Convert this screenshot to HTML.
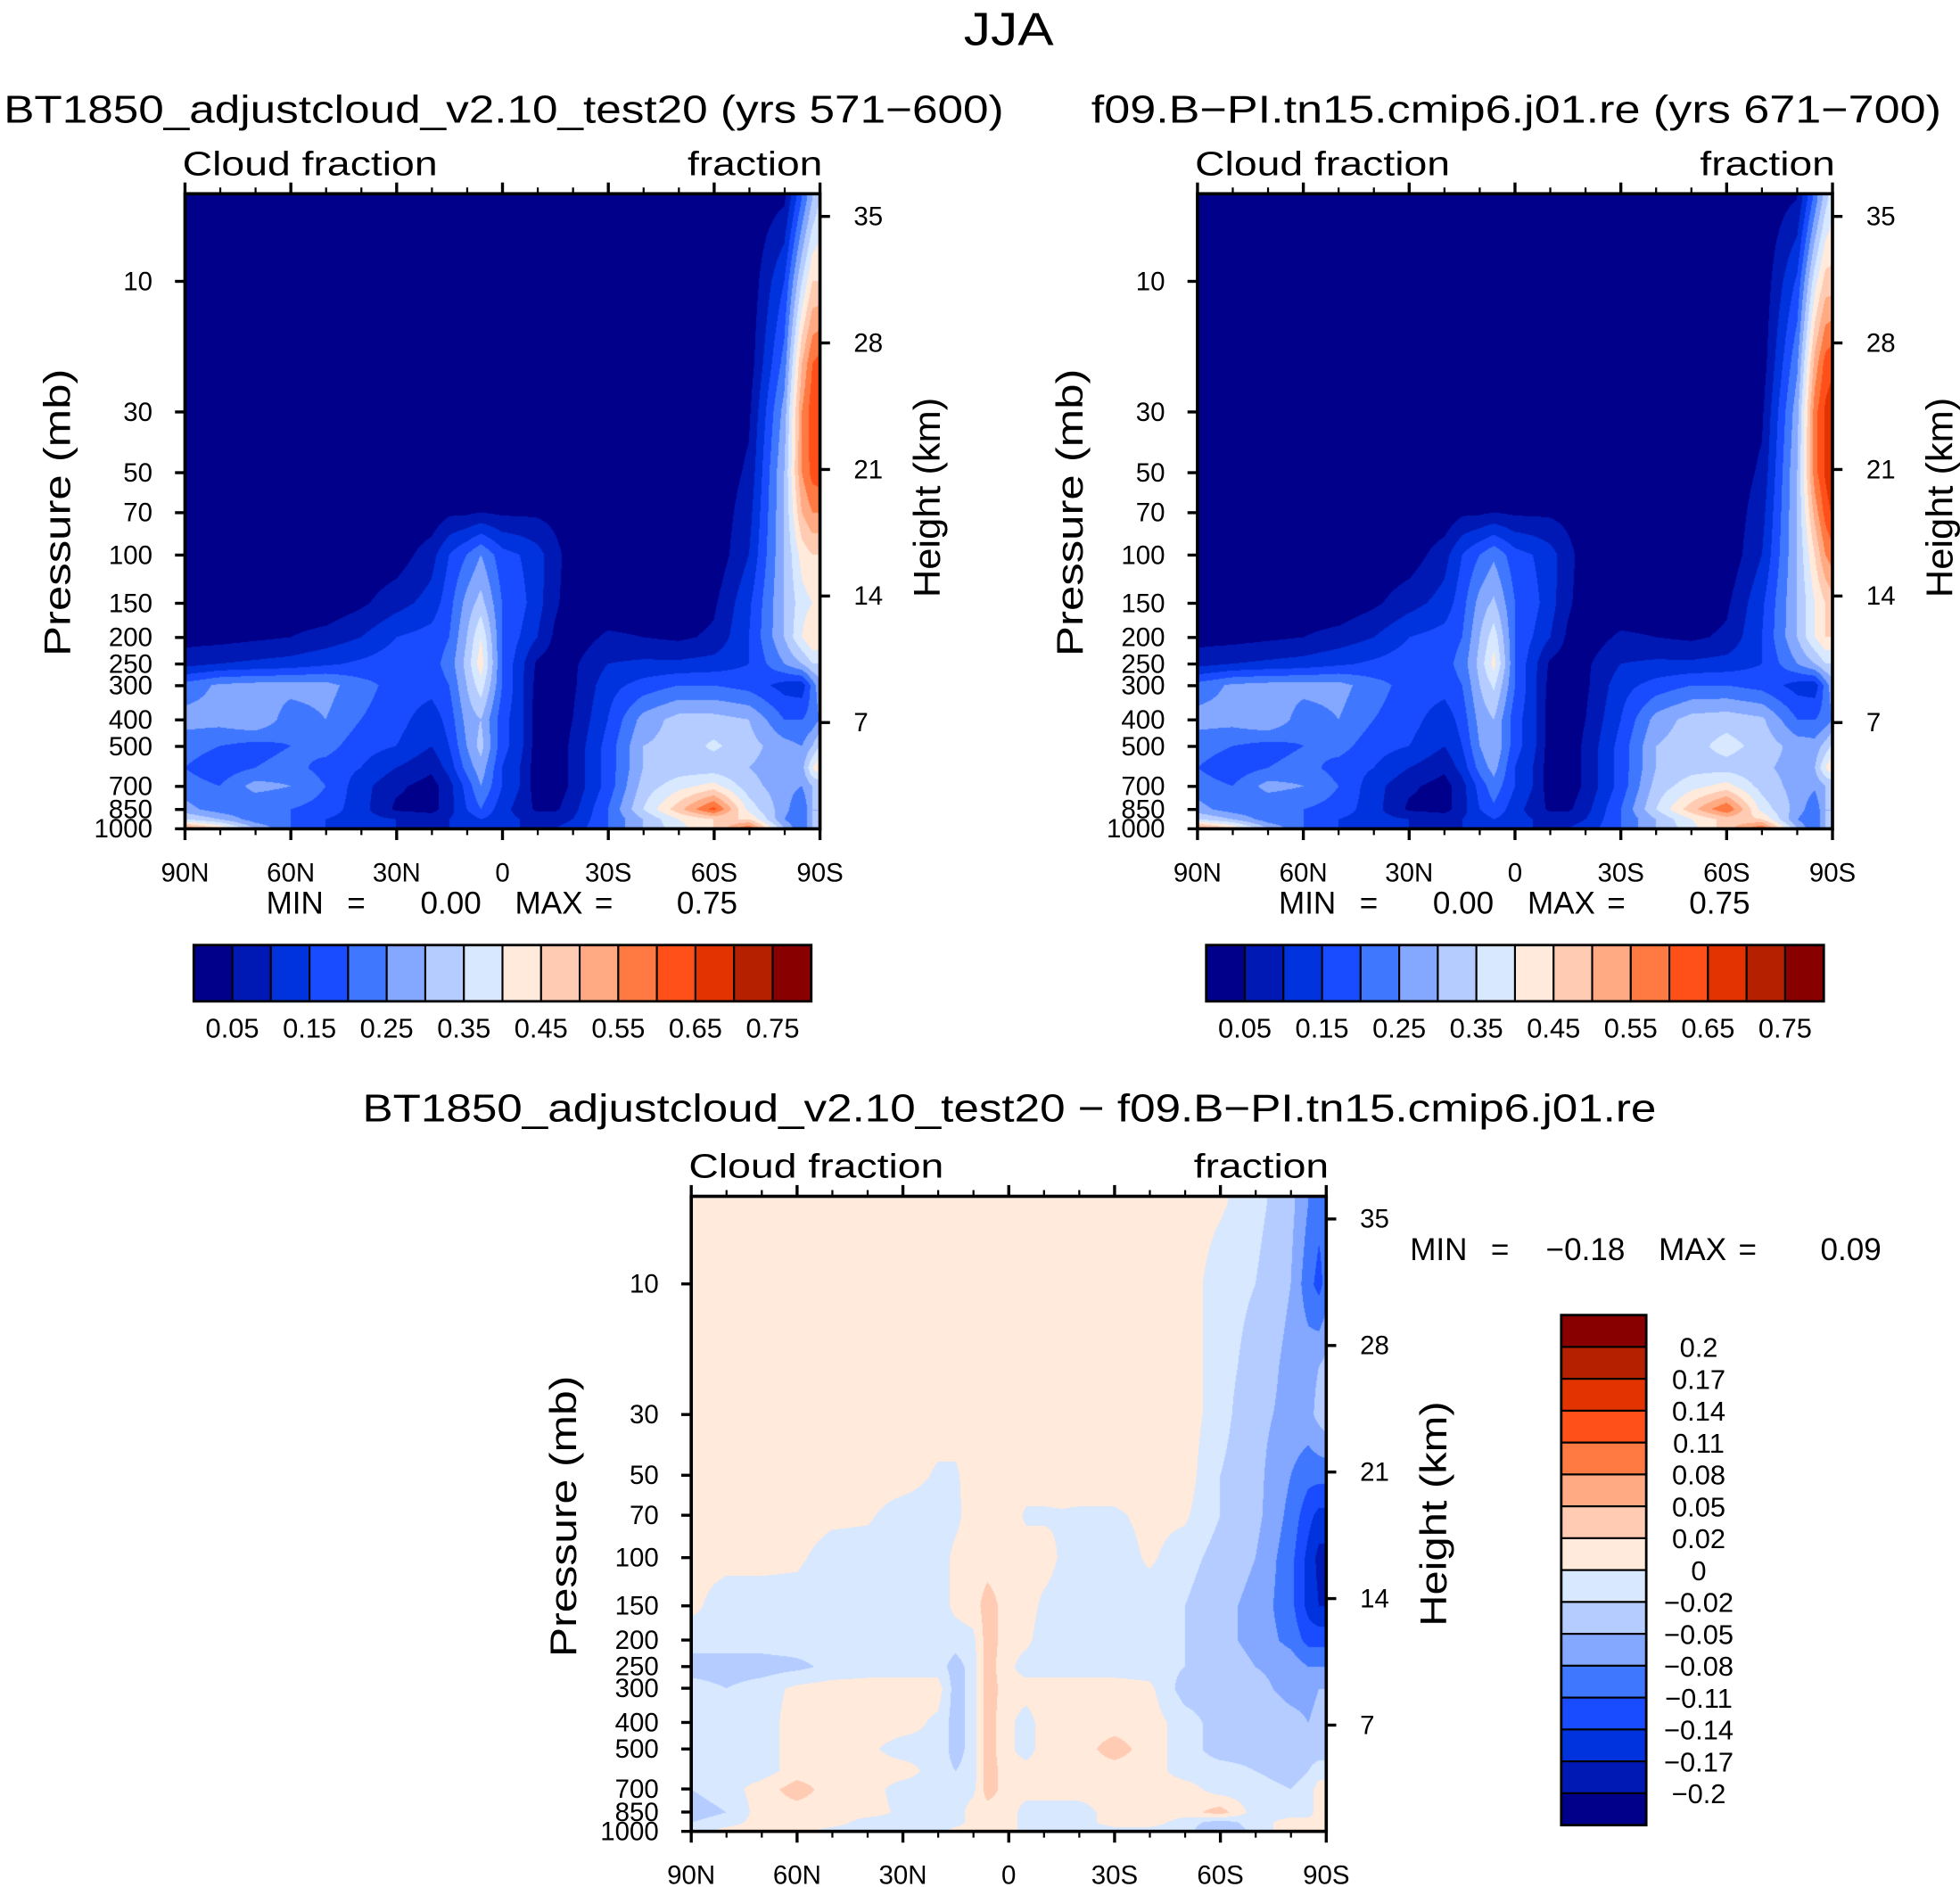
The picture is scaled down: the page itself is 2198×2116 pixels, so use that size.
<!DOCTYPE html>
<html><head><meta charset="utf-8">
<style>
html,body{margin:0;padding:0;background:#fff;}
#root{position:relative;width:2198px;height:2116px;overflow:hidden;background:#fff;font-family:"Liberation Sans",sans-serif;}
canvas{position:absolute;}
#svg{position:absolute;left:0;top:0;}
</style></head>
<body>
<div id="root">
<canvas id="cvA"></canvas>
<canvas id="cvB"></canvas>
<canvas id="cvD"></canvas>
<svg id="svg" width="2198" height="2116" viewBox="0 0 1568 1509.5" preserveAspectRatio="none" xmlns="http://www.w3.org/2000/svg"></svg>
</div>
<script>
// ---- data ----
const LATS=[90,80,70,60,50,40,30,20,15,10,6,0,-5,-10,-15,-20,-30,-40,-50,-60,-70,-80,-85,-88,-90];
const PLEV=[5,10,20,30,50,70,100,150,200,250,300,400,500,600,700,850,925,1000];
const cfA=[
[.01,.01,.01,.01,.01,.01,.01,.01,.01,.01,.01,.01,.01,.01,.01,.01,.01,.01,.01,.01,.01,.04,.2,.3,.35],
[.01,.01,.01,.01,.01,.01,.01,.01,.01,.01,.01,.01,.01,.01,.01,.01,.01,.01,.01,.01,.01,.15,.35,.45,.45],
[.01,.01,.01,.01,.01,.01,.01,.01,.01,.01,.01,.01,.01,.01,.01,.01,.01,.01,.01,.01,.02,.22,.5,.6,.62],
[.01,.01,.01,.01,.01,.01,.01,.01,.01,.01,.01,.01,.01,.01,.01,.01,.01,.01,.01,.01,.04,.27,.55,.63,.65],
[.01,.01,.01,.01,.01,.01,.01,.01,.01,.01,.01,.01,.01,.01,.01,.01,.01,.01,.01,.01,.06,.3,.55,.62,.63],
[.01,.01,.01,.01,.01,.01,.01,.01,.04,.04,.05,.04,.04,.04,.03,.01,.01,.01,.01,.01,.08,.3,.5,.55,.55],
[.01,.01,.01,.01,.01,.01,.02,.08,.15,.2,.25,.17,.15,.12,.07,.02,.01,.01,.01,.01,.1,.3,.42,.45,.45],
[.01,.01,.01,.01,.01,.04,.08,.12,.18,.27,.32,.2,.17,.12,.06,.02,.01,.01,.01,.04,.14,.3,.38,.4,.4],
[.03,.03,.04,.05,.07,.1,.15,.17,.2,.3,.4,.2,.15,.1,.04,.02,.06,.05,.04,.06,.15,.3,.4,.45,.45],
[.08,.1,.11,.12,.14,.16,.18,.18,.22,.32,.43,.2,.12,.04,.02,.04,.1,.11,.11,.12,.15,.25,.3,.35,.35],
[.22,.26,.27,.27,.27,.22,.18,.17,.2,.3,.38,.2,.12,.03,.02,.04,.13,.17,.2,.2,.18,.13,.12,.22,.28],
[.27,.27,.3,.22,.25,.2,.17,.12,.17,.27,.3,.17,.12,.02,.02,.05,.15,.27,.32,.32,.3,.2,.2,.22,.25],
[.22,.2,.18,.2,.22,.17,.15,.1,.15,.25,.32,.17,.12,.02,.02,.06,.17,.3,.32,.36,.32,.27,.25,.3,.35],
[.2,.17,.2,.22,.18,.15,.1,.06,.12,.22,.28,.15,.1,.02,.02,.06,.17,.3,.32,.32,.3,.27,.28,.4,.45],
[.22,.2,.27,.25,.2,.12,.06,.03,.08,.17,.25,.15,.1,.02,.02,.06,.17,.32,.38,.42,.32,.27,.25,.3,.3],
[.27,.22,.2,.2,.18,.12,.04,.03,.08,.15,.2,.12,.08,.04,.04,.08,.2,.35,.48,.62,.38,.27,.2,.3,.3],
[.35,.3,.22,.2,.15,.12,.1,.08,.1,.12,.15,.12,.1,.08,.08,.1,.2,.3,.4,.45,.45,.25,.2,.3,.3],
[.55,.45,.3,.2,.15,.12,.1,.1,.1,.12,.12,.12,.1,.1,.1,.12,.2,.3,.38,.45,.6,.3,.2,.3,.3]
];
const cfB=[
[.01,.01,.01,.01,.01,.01,.01,.01,.01,.01,.01,.01,.01,.01,.01,.01,.01,.01,.01,.01,.01,.05,.22,.33,.38],
[.01,.01,.01,.01,.01,.01,.01,.01,.01,.01,.01,.01,.01,.01,.01,.01,.01,.01,.01,.01,.01,.16,.38,.47,.47],
[.01,.01,.01,.01,.01,.01,.01,.01,.01,.01,.01,.01,.01,.01,.01,.01,.01,.01,.01,.01,.02,.24,.52,.62,.64],
[.01,.01,.01,.01,.01,.01,.01,.01,.01,.01,.01,.01,.01,.01,.01,.01,.01,.01,.01,.01,.04,.28,.58,.66,.68],
[.01,.01,.01,.01,.01,.01,.01,.01,.01,.01,.01,.01,.01,.01,.01,.01,.01,.01,.01,.01,.06,.3,.58,.66,.7],
[.01,.01,.01,.01,.01,.01,.01,.01,.04,.04,.05,.04,.04,.04,.03,.01,.01,.01,.01,.01,.08,.3,.52,.62,.66],
[.01,.01,.01,.01,.01,.01,.02,.08,.15,.2,.24,.17,.15,.12,.07,.02,.01,.01,.01,.01,.1,.3,.45,.55,.58],
[.01,.01,.01,.01,.01,.04,.08,.12,.18,.27,.31,.2,.17,.12,.06,.02,.01,.01,.01,.04,.14,.3,.4,.45,.48],
[.03,.03,.04,.05,.07,.1,.15,.17,.2,.3,.38,.2,.15,.1,.04,.02,.06,.05,.04,.06,.15,.3,.4,.45,.45],
[.08,.1,.11,.12,.14,.16,.18,.18,.22,.32,.42,.2,.12,.04,.02,.04,.1,.11,.11,.12,.15,.25,.3,.35,.35],
[.22,.26,.27,.27,.27,.22,.18,.17,.2,.3,.36,.2,.12,.03,.02,.04,.13,.17,.2,.2,.18,.13,.12,.22,.28],
[.27,.27,.3,.22,.25,.2,.17,.12,.17,.27,.3,.17,.12,.02,.02,.05,.15,.27,.32,.33,.31,.2,.2,.22,.25],
[.22,.2,.18,.2,.22,.17,.15,.1,.15,.25,.3,.17,.12,.02,.02,.06,.17,.3,.33,.37,.33,.28,.27,.32,.36],
[.2,.17,.2,.22,.18,.15,.1,.06,.12,.22,.27,.15,.1,.02,.02,.06,.17,.3,.33,.33,.31,.28,.3,.4,.45],
[.22,.2,.27,.25,.2,.12,.06,.03,.08,.17,.23,.15,.1,.02,.02,.06,.17,.32,.38,.42,.33,.28,.26,.3,.3],
[.27,.22,.2,.2,.18,.12,.04,.03,.08,.15,.19,.12,.08,.04,.04,.08,.2,.35,.48,.6,.38,.28,.21,.3,.3],
[.35,.3,.22,.2,.15,.12,.1,.08,.1,.12,.15,.12,.1,.08,.08,.1,.2,.3,.4,.47,.45,.25,.2,.3,.3],
[.55,.45,.3,.2,.15,.12,.1,.1,.1,.12,.12,.12,.1,.1,.1,.12,.2,.3,.38,.48,.6,.3,.2,.3,.3]
];
const cfDiff=[
[.01,.01,.01,.01,.01,.01,.01,.01,.01,.01,.01,.01,.01,.01,.01,.01,.01,.01,.01,.003,-.01,-.04,-.08,-.1,-.1],
[.01,.01,.01,.01,.01,.01,.01,.01,.01,.01,.01,.01,.01,.01,.01,.01,.01,.01,.01,-.01,-.02,-.05,-.1,-.12,-.1],
[.01,.01,.01,.01,.01,.01,.01,.01,.01,.01,.01,.01,.01,.01,.01,.01,.01,.01,.01,-.01,-.03,-.06,-.06,-.05,-.04],
[.01,.01,.01,.01,.01,.01,.01,.01,.01,.01,.01,.01,.01,.01,.01,.01,.01,.01,.01,-.01,-.04,-.06,-.06,-.04,-.03],
[.01,.01,.01,.01,.01,.01,.01,-.003,-.003,.01,.01,.01,.01,.01,.01,.01,.01,.01,.01,-.02,-.04,-.08,-.1,-.1,-.1],
[.01,.01,.01,.01,.005,.003,-.01,-.01,-.005,.01,.01,.01,-.003,-.003,-.002,-.003,-.003,.005,.003,-.02,-.04,-.09,-.13,-.15,-.15],
[.006,.006,.006,.004,-.01,-.01,-.01,-.01,.005,.01,.01,.01,.01,.01,-.003,-.01,-.01,.003,-.01,-.03,-.05,-.1,-.15,-.18,-.18],
[.005,-.01,-.01,-.01,-.01,-.01,-.01,-.01,.005,.01,.03,.01,.01,-.005,-.01,-.01,-.01,-.01,-.02,-.04,-.06,-.1,-.15,-.17,-.17],
[-.01,-.01,-.01,-.01,-.01,-.01,-.01,-.01,-.01,-.005,.03,.01,.005,-.01,-.01,-.01,-.01,-.01,-.02,-.04,-.06,-.09,-.12,-.12,-.12],
[-.03,-.03,-.03,-.025,-.015,-.01,-.01,-.01,-.03,-.01,.03,.005,-.01,-.01,-.01,-.01,-.01,-.01,-.02,-.03,-.05,-.06,-.08,-.08,-.08],
[-.01,-.02,-.01,.005,.01,.01,.01,.01,-.03,-.01,.03,.01,.01,.01,.01,.01,.01,.005,-.03,-.03,-.04,-.06,-.06,-.05,-.05],
[-.01,-.01,-.01,.01,.01,.01,.01,-.005,-.03,-.01,.03,.005,-.01,.01,.01,.01,.01,.01,-.01,-.03,-.03,-.04,-.05,-.04,-.04],
[-.01,-.01,-.01,.01,.01,.005,-.01,-.005,-.03,-.01,.03,.005,-.01,.01,.01,.01,.03,.01,-.01,-.03,-.03,-.03,-.03,-.03,-.03],
[-.01,-.01,-.01,.01,.01,.01,.01,-.01,-.02,-.01,.03,.01,.01,.01,.01,.01,.01,.01,-.01,-.01,-.02,-.03,-.02,-.01,-.01],
[-.02,-.01,.01,.03,.01,.01,-.01,-.01,-.01,-.005,.03,.01,.01,.01,.01,.01,.01,.01,.01,-.01,-.01,-.02,-.01,.01,.01],
[-.03,-.02,.01,.01,.01,.01,-.005,-.01,-.01,.01,.01,.01,-.01,-.01,-.01,-.01,.01,.01,.01,.03,-.01,-.01,-.01,.01,.01],
[-.02,-.01,.01,.01,.01,-.01,-.01,-.01,-.01,.01,.01,.01,-.01,-.01,-.01,-.01,.01,.01,-.01,-.03,-.01,.01,.01,.01,.01],
[-.01,.01,.01,.01,-.01,-.01,-.01,-.01,.01,.01,.01,.01,-.01,-.01,-.01,-.01,-.01,-.01,-.01,-.05,-.01,.01,.01,.01,.01]
];
const COLORS=['#00008a','#0019b4','#0033dd','#1a4cff','#4077ff','#84a8ff','#b4ccff','#d7e8ff','#ffeadb','#ffcbb2','#ffaa82','#ff7942','#ff501a','#e33300','#b52100','#880000'];
const LEV_A=[0.05,0.1,0.15,0.2,0.25,0.3,0.35,0.4,0.45,0.5,0.55,0.6,0.65,0.7,0.75];
const LEV_D=[-0.2,-0.17,-0.14,-0.11,-0.08,-0.05,-0.02,0,0.02,0.05,0.08,0.11,0.14,0.17,0.2];
const LBL_A=['0.05','0.15','0.25','0.35','0.45','0.55','0.65','0.75'];
const LBL_D=['0.2','0.17','0.14','0.11','0.08','0.05','0.02','0','\u22120.02','\u22120.05','\u22120.08','\u22120.11','\u22120.14','\u22120.17','\u22120.2'];
const P_TICKS=[10,30,50,70,100,150,200,250,300,400,500,700,850,1000];
const Z_TICKS=[7,14,21,28,35];
const LAT_TICKS=[90,60,30,0,-30,-60,-90];
const LAT_LABELS=['90N','60N','30N','0','30S','60S','90S'];

// ---- geometry ----
const S=2198/1568, PW=508, PH=508, LPTOP=0.68, LPBOT=3;
const svg=document.getElementById('svg');
const NS='http://www.w3.org/2000/svg';
function xLat(x0,lat){return x0+(90-lat)/180*PW;}
function yP(y0,p){return y0+(Math.log10(p)-LPTOP)/(LPBOT-LPTOP)*PH;}
function yZ(y0,z){return y0+423-(z-7)*14.46;}
function el(tag,attrs){const e=document.createElementNS(NS,tag);for(const k in attrs)e.setAttribute(k,attrs[k]);svg.appendChild(e);return e;}
function txt(x,y,s,size,anchor,rot,tl){
  const t=document.createElementNS(NS,'text');
  t.setAttribute('x',x);t.setAttribute('y',y);t.setAttribute('font-size',size);
  t.setAttribute('text-anchor',anchor||'start');t.setAttribute('font-family','"Liberation Sans", sans-serif');t.setAttribute('fill','#000');
  if(rot)t.setAttribute('transform','rotate(-90 '+x+' '+y+')');
  if(tl){t.setAttribute('textLength',tl);t.setAttribute('lengthAdjust','spacingAndGlyphs');}
  t.textContent=s;svg.appendChild(t);return t;
}
function sample(data,lat,lp){
  let c=0;while(c<LATS.length-2&&lat<LATS[c+1])c++;
  let tc=(LATS[c]-lat)/(LATS[c]-LATS[c+1]);tc=Math.max(0,Math.min(1,tc));
  const LP=PLEV.map(Math.log10);
  let r=0;while(r<LP.length-2&&lp>LP[r+1])r++;
  let tr=(lp-LP[r])/(LP[r+1]-LP[r]);tr=Math.max(0,Math.min(1,tr));
  const a=data[r][c]*(1-tc)+data[r][c+1]*tc;
  const b=data[r+1][c]*(1-tc)+data[r+1][c+1]*tc;
  return a*(1-tr)+b*tr;
}
function hex(h){return [parseInt(h.substr(1,2),16),parseInt(h.substr(3,2),16),parseInt(h.substr(5,2),16)];}
const RGB=COLORS.map(hex);
function drawField(id,x0,y0,data,levels){
  const cv=document.getElementById(id);
  const W=Math.round(PW*S),H=Math.round(PH*S);
  cv.width=W;cv.height=H;cv.style.left=(x0*S)+'px';cv.style.top=(y0*S)+'px';
  cv.style.width=W+'px';cv.style.height=H+'px';
  const ctx=cv.getContext('2d');const img=ctx.createImageData(W,H);
  for(let j=0;j<H;j++){const lp=LPTOP+(j+0.5)/H*(LPBOT-LPTOP);
    for(let i=0;i<W;i++){const lat=90-(i+0.5)/W*180;const v=sample(data,lat,lp);
      let k=0;while(k<levels.length&&v>=levels[k])k++;
      const c=RGB[k];const o=(j*W+i)*4;img.data[o]=c[0];img.data[o+1]=c[1];img.data[o+2]=c[2];img.data[o+3]=255;}}
  ctx.putImageData(img,0,0);
}
function axes(x0,y0,prefix,hOff,pOff,hLen,pLen){
  const f=el('rect',{x:x0,y:y0,width:PW,height:PH,fill:'none',stroke:'#000','stroke-width':2.6});
  
  for(let lat=90;lat>=-90;lat-=10){
    const x=xLat(x0,lat);const major=(lat%30===0);const L=major?9:5;
    el('line',{x1:x,y1:y0,x2:x,y2:y0-L,stroke:'#000','stroke-width':major?2.4:1.6});
    el('line',{x1:x,y1:y0+PH,x2:x,y2:y0+PH+L,stroke:'#000','stroke-width':major?2.4:1.6});
  }
  LAT_TICKS.forEach((lat,i)=>{const t=txt(xLat(x0,lat),y0+PH+42,LAT_LABELS[i],21,'middle');
    });
  P_TICKS.forEach(p=>{const y=yP(y0,p);el('line',{x1:x0-8,y1:y,x2:x0,y2:y,stroke:'#000','stroke-width':2.4});
    const t=txt(x0-26,y+7,String(p),21,'end');
    });
  Z_TICKS.forEach(z=>{const y=yZ(y0,z);el('line',{x1:x0+PW,y1:y,x2:x0+PW+8,y2:y,stroke:'#000','stroke-width':2.4});
    const t=txt(x0+PW+27,y+7,String(z),21,'start');
    });
  let t=txt(x0-2,y0-15,'Cloud  fraction',27,'start',false,204);
  
  t=txt(x0+PW+2,y0-15,'fraction',27,'end',false,108);
  
  t=txt(x0-92,y0+pOff,'Pressure  (mb)',30,'middle',true,pLen);
  
  t=txt(x0+604,y0+hOff,'Height  (km)',30,'middle',true,hLen);
  
}
function hbar(x0,y0,prefix){
  const bw=494/16;
  COLORS.forEach((c,i)=>{const r=el('rect',{x:x0+i*bw,y:y0,width:bw,height:45,fill:c,stroke:'#000','stroke-width':1.5});
    });
  el('rect',{x:x0,y:y0,width:494,height:45,fill:'none',stroke:'#000','stroke-width':2});
  LBL_A.forEach((s,i)=>{const t=txt(x0+(1+2*i)*bw,y0+74,s,22,'middle');
    });
}
function minmax(x,y,a,b,prefix){
  const parts=[['MIN',x,'start'],['=',x+72,'middle'],[a,x+172,'end'],['MAX',x+199,'start'],['=',x+270,'middle'],[b,x+377,'end']];
  parts.forEach(p=>{const t=txt(p[1],y,p[0],25,p[2]);});
}

// ---- draw ----
drawField('cvA',148,155,cfA,LEV_A);
drawField('cvB',958,155,cfB,LEV_A);
drawField('cvD',553,957,cfDiff,LEV_D);

let t=txt(807,36,'JJA',37,'middle',false,72);
t=txt(3,98,'BT1850_adjustcloud_v2.10_test20 (yrs 571\u2212600)',31,'start',false,800);

t=txt(873,98,'f09.B\u2212PI.tn15.cmip6.j01.re (yrs 671\u2212700)',31,'start',false,680);

t=txt(290,897,'BT1850_adjustcloud_v2.10_test20 \u2212 f09.B\u2212PI.tn15.cmip6.j01.re',31,'start',false,1035);


axes(148,155,'left',243,255,160,230);
axes(958,155,'right',243,255,160,230);
axes(553,957,'diff',254,256,180,225);
minmax(213,731,'0.00','0.75','left');
minmax(1023,731,'0.00','0.75','right');
minmax(1128,1008,'\u22120.18','0.09','diff');
hbar(155,756,'left');
hbar(965,756,'right');

// vertical colorbar for difference
(function(){const x0=1249,y0=1052,bh=25.5;
  for(let i=0;i<16;i++){const r=el('rect',{x:x0,y:y0+i*bh,width:68,height:bh,fill:COLORS[15-i],stroke:'#000','stroke-width':1.5});
    }
  el('rect',{x:x0,y:y0,width:68,height:16*bh,fill:'none',stroke:'#000','stroke-width':2});
  LBL_D.forEach((s,i)=>{const t=txt(1359,y0+(i+1)*bh+8,s,22,'middle');
    });
})();
</script>
</body></html>
